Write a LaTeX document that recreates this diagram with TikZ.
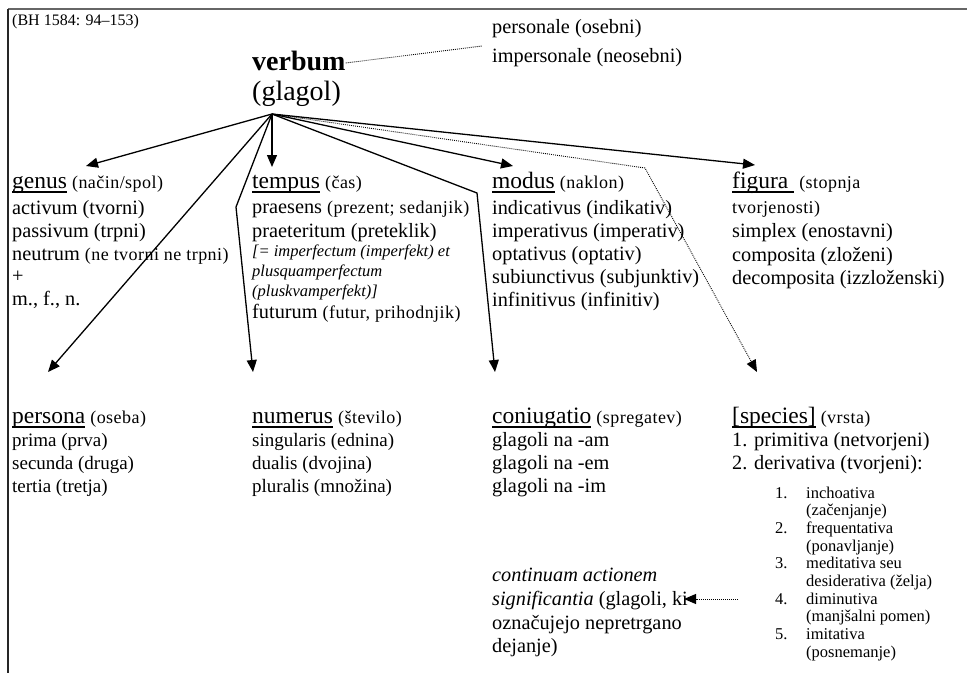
\documentclass[tikz,border=0pt]{standalone}
\usepackage{fontspec}
\setmainfont{Liberation Serif}
\usetikzlibrary{arrows.meta}

% underline at a fixed depth below the baseline, as a word processor draws it
\newcommand\ulx[1]{\setbox0\hbox{#1}\rlap{\vrule width \wd0 height -3pt depth 4.8pt}\box0}
% smaller, slightly spaced parenthetical text
\newcommand\sm[1]{{\fontsize{18}{20}\selectfont\addfontfeatures{LetterSpace=2.5}#1}}
% underlined column heading
\newcommand\hd[1]{{\fontsize{23.5}{26}\selectfont\ulx{#1}}}

\begin{document}
\begin{tikzpicture}[x=1pt,y=-1pt,
  txt/.style={anchor=base west, inner sep=0pt, font=\fontsize{20.3}{23}\selectfont},
  mid/.style={txt, font=\fontsize{19}{22}\selectfont},
  itl/.style={txt, font=\itshape\fontsize{16.5}{18}\selectfont},
  tiny/.style={txt, font=\fontsize{16.5}{18}\selectfont},
  conn/.style={line width=1.3pt, -{Triangle[length=12pt,width=10pt]}},
  dotconn/.style={line width=0.9pt, dash pattern=on 0.9pt off 1.1pt, -{Triangle[length=12pt,width=10pt]}},
  dotline/.style={line width=0.9pt, dash pattern=on 0.9pt off 1.1pt}]
\useasboundingbox (0,0) rectangle (967,673);

% frame
\draw[line width=1.4pt, black!60] (8,9) -- (967,9);
\draw[line width=1.6pt, black!85] (8,9) -- (8,673);

% title and root
\node[txt, font=\fontsize{16}{18}\selectfont] (src) at (12,25) {(BH 1584: 94–153)};
\node[txt, font=\bfseries\fontsize{28}{30}\selectfont] (verbum) at (252,70) {verbum};
\node[txt, font=\fontsize{28}{30}\selectfont] (glagol) at (252,100) {(glagol)};
\node[txt] (pers) at (492,33) {personale (osebni)};
\node[txt] (impers) at (492,62) {impersonale (neosebni)};

% genus
\node[txt] (g0) at (12,188) {\hd{genus} \sm{(način/spol)}};
\node[txt] (g1) at (12,214) {activum (tvorni)};
\node[txt] (g2) at (12,237) {passivum (trpni)};
\node[txt] (g3) at (12,260) {neutrum \sm{(ne tvorni ne trpni)}};
\node[txt] (g4) at (12,282) {+};
\node[txt] (g5) at (12,305) {m., f., n.};

% tempus
\node[txt] (t0) at (252,188) {\hd{tempus} \sm{(čas)}};
\node[txt] (t1) at (252,213) {praesens \sm{(prezent; sedanjik)}};
\node[txt] (t2) at (252,237) {praeteritum (preteklik)};
\node[itl] (t3) at (252,256) {[= imperfectum (imperfekt) et};
\node[itl] (t4) at (252,276) {plusquamperfectum};
\node[itl] (t5) at (252,296) {(pluskvamperfekt)]};
\node[txt] (t6) at (252,318) {futurum \sm{(futur, prihodnjik)}};

% modus
\node[txt] (m0) at (492,188) {\hd{modus} \sm{(naklon)}};
\node[txt] (m1) at (492,214) {indicativus (indikativ)};
\node[txt] (m2) at (492,237) {imperativus (imperativ)};
\node[txt] (m3) at (492,260) {optativus (optativ)};
\node[txt] (m4) at (492,283) {subiunctivus (subjunktiv)};
\node[txt] (m5) at (492,306) {infinitivus (infinitiv)};

% figura
\node[txt] (f0) at (732,188) {\hd{figura } \sm{(stopnja}};
\node[txt] (f1) at (732,213) {\sm{tvorjenosti)}};
\node[txt] (f2) at (732,237) {simplex (enostavni)};
\node[txt] (f3) at (732,261) {composita (zloženi)};
\node[txt] (f4) at (732,284) {decomposita (izzloženski)};

% persona
\node[txt] (p0) at (12,423) {\hd{persona} \sm{(oseba)}};
\node[mid] (p1) at (12,446) {prima (prva)};
\node[mid] (p2) at (12,469) {secunda (druga)};
\node[mid] (p3) at (12,492) {tertia (tretja)};

% numerus
\node[txt] (n0) at (252,423) {\hd{numerus} \sm{(število)}};
\node[mid] (n1) at (252,446) {singularis (ednina)};
\node[mid] (n2) at (252,469) {dualis (dvojina)};
\node[mid] (n3) at (252,492) {pluralis (množina)};

% coniugatio
\node[txt] (c0) at (492,423) {\hd{coniugatio} \sm{(spregatev)}};
\node[txt] (c1) at (492,446) {glagoli na -am};
\node[txt] (c2) at (492,469) {glagoli na -em};
\node[txt] (c3) at (492,492) {glagoli na -im};

% species
\node[txt] (s0) at (732,423) {\hd{[species]} \sm{(vrsta)}};
\node[txt] (s1) at (732,446) {1. primitiva (netvorjeni)};
\node[txt] (s2) at (732,469) {2. derivativa (tvorjeni):};
\foreach \n/\a/\b [count=\i from 0] in {1./inchoativa/(začenjanje), 2./frequentativa/(ponavljanje),
    3./meditativa seu/desiderativa (želja), 4./diminutiva/(manjšalni pomen), 5./imitativa/(posnemanje)} {
  \node[tiny] (sn\i) at (775,498+35.4*\i) {\n};
  \node[tiny] (sa\i) at (806,498+35.4*\i) {\a};
  \node[tiny] (sb\i) at (806,515.7+35.4*\i) {\b};
}

% continuam
\node[txt] (k1) at (492,581) {\textit{continuam actionem}};
\node[txt] (k2) at (492,605) {\textit{significantia} (glagoli, ki};
\node[txt] (k3) at (492,629) {označujejo nepretrgano};
\node[txt] (k4) at (492,652) {dejanje)};

% connectors
\coordinate (o) at (272,114);
\coordinate (aGenus) at (86,166);
\coordinate (aPersona) at (48,372);
\coordinate (aTempus) at (272,167);
\coordinate (bNumerus) at (236,207);
\coordinate (aNumerus) at (253,372);
\coordinate (aModus) at (513,166);
\coordinate (bConiug) at (477,193);
\coordinate (aConiug) at (495,372);
\coordinate (bSpecies) at (645,168);
\coordinate (aSpecies) at (757,372);
\coordinate (aFigura) at (755,165);
\coordinate (pEnd) at (482,46);
\coordinate (kStart) at (738,599);
\coordinate (kTip) at (684,599);

\draw[conn] (o) -- (aGenus);
\draw[conn] (o) -- (aPersona);
\draw[conn] (o) -- (aTempus);
\draw[conn] (o) -- (bNumerus) -- (aNumerus);
\draw[conn] (o) -- (aModus);
\draw[conn] (o) -- (bConiug) -- (aConiug);
\draw[dotconn] (o) -- (bSpecies) -- (aSpecies);
\draw[conn] (o) -- (aFigura);
\draw[dotline] ([yshift=7pt]verbum.base east) -- (pEnd);
\draw[dotconn] (kStart) -- (kTip);
\end{tikzpicture}
\end{document}
